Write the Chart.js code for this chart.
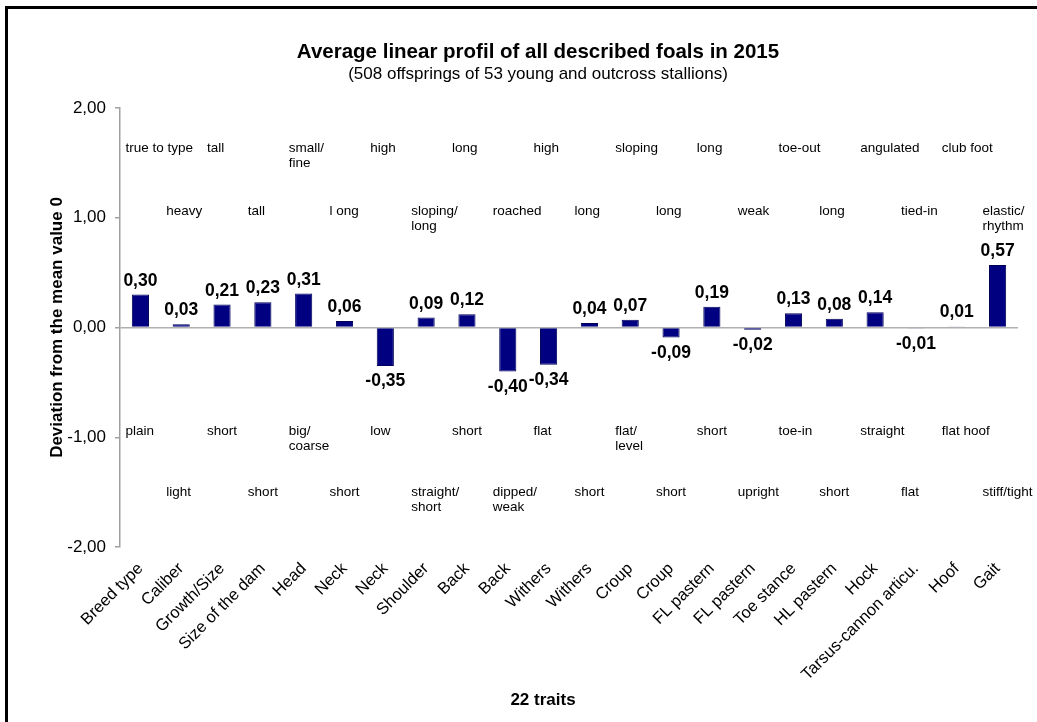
<!DOCTYPE html>
<html>
<head>
<meta charset="utf-8">
<script src="https://cdn.jsdelivr.net/npm/chart.js@4/dist/chart.umd.min.js"></script>
<style>
  body { margin: 0; background: #fff; }
  #wrap { position: relative; width: 1037px; height: 722px; }
  #frame { position: absolute; left: 5px; top: 6px; right: 0; bottom: 0;
           border-left: 3px solid #000; border-top: 3px solid #000; pointer-events: none; }
</style>
</head>
<body>
<div id="wrap">
  <canvas id="myChart" width="1037" height="722"></canvas>
  <div id="frame"></div>
</div>
<script>
// traits on the x axis
const traits = ['Breed type', 'Caliber', 'Growth/Size', 'Size of the dam', 'Head', 'Neck', 'Neck',
  'Shoulder', 'Back', 'Back', 'Withers', 'Withers', 'Croup', 'Croup', 'FL pastern', 'FL pastern',
  'Toe stance', 'HL pastern', 'Hock', 'Tarsus-cannon articu.', 'Hoof', 'Gait'];
// deviation from the mean
const deviation = [0.30, 0.03, 0.21, 0.23, 0.31, 0.06, -0.35, 0.09, 0.12, -0.40, -0.34, 0.04,
  0.07, -0.09, 0.19, -0.02, 0.13, 0.08, 0.14, -0.01, 0.01, 0.57];
const yTicks = [-2, -1, 0, 1, 2];

// descriptions of the scale ends (upper = positive end, lower = negative end)
const upperText = ['true to type', 'heavy', 'tall', 'tall', 'small/\nfine', 'l ong', 'high',
  'sloping/\nlong', 'long', 'roached', 'high', 'long', 'sloping', 'long', 'long', 'weak',
  'toe-out', 'long', 'angulated', 'tied-in', 'club foot', 'elastic/\nrhythm'];
const lowerText = ['plain', 'light', 'short', 'short', 'big/\ncoarse', 'short', 'low',
  'straight/\nshort', 'short', 'dipped/\nweak', 'flat', 'short', 'flat/\nlevel', 'short', 'short',
  'upright', 'toe-in', 'short', 'straight', 'flat', 'flat hoof', 'stiff/tight'];
// rows where the descriptions sit, alternating between even and odd traits
const upperRows = [1.635, 1.055];
const lowerRows = [-0.945, -1.505];

const fmt = v => v.toFixed(2).replace('.', ',');
const FONT = "'Liberation Sans', Arial, sans-serif";

const textPlugin = {
  id: 'texts',
  afterDatasetsDraw(chart) {
    const c = chart.ctx;
    const x = chart.scales.x, y = chart.scales.y;
    const meta = chart.getDatasetMeta(0);
    c.save();
    // value labels
    c.font = 'bold 17.5px ' + FONT;
    c.fillStyle = '#000';
    c.textAlign = 'center';
    meta.data.forEach((bar, i) => {
      const v = deviation[i];
      if (v >= 0) {
        c.textBaseline = 'bottom';
        c.fillText(fmt(v), bar.x, bar.y - 5);
      } else {
        c.textBaseline = 'top';
        c.fillText(fmt(v), bar.x, bar.y + 7);
      }
    });
    // scale end descriptions
    c.font = '13.5px ' + FONT;
    c.textAlign = 'left';
    c.textBaseline = 'middle';
    const put = (txt, i, row) => {
      const px = x.getPixelForValue(i) - 15;
      const py = y.getPixelForValue(row);
      txt.split('\n').forEach((line, k) => c.fillText(line, px, py + k * 15));
    };
    upperText.forEach((t, i) => put(t, i, upperRows[i % 2]));
    lowerText.forEach((t, i) => put(t, i, lowerRows[i % 2]));
    // x axis title
    c.font = 'bold 17px ' + FONT;
    c.textAlign = 'center';
    c.fillText('22 traits', (x.left + x.right) / 2 - 26, 700);
    c.restore();
  }
};

const bgPlugin = {
  id: 'bg',
  beforeDraw(chart) {
    const c = chart.ctx;
    c.save();
    c.fillStyle = '#fff';
    c.fillRect(0, 0, chart.width, chart.height);
    c.restore();
  }
};

const ctx = document.getElementById('myChart').getContext('2d');
const myChart = new Chart(ctx, {
  type: 'bar',
  data: {
    labels: traits,
    datasets: [{
      data: deviation,
      backgroundColor: '#000080',
      borderColor: '#00005a',
      borderWidth: 1,
      barPercentage: 0.42,
      categoryPercentage: 1
    }]
  },
  options: {
    responsive: false,
    animation: false,
    layout: { padding: { top: 30, left: 58, right: 19, bottom: 9 } },
    plugins: {
      legend: { display: false },
      tooltip: { enabled: false },
      title: {
        display: true,
        text: 'Average linear profil of all described foals in 2015',
        color: '#000',
        font: { family: FONT, size: 20.5, weight: 'bold' },
        padding: { top: 10, bottom: 0 }
      },
      subtitle: {
        display: true,
        text: '(508 offsprings of 53 young and outcross stallions)',
        color: '#000',
        font: { family: FONT, size: 17 },
        padding: { top: 0, bottom: 23 }
      }
    },
    scales: {
      x: {
        grid: { display: false },
        border: { display: false },
        ticks: { color: '#000', font: { family: FONT, size: 16.5 }, minRotation: 45, maxRotation: 45, autoSkip: false, padding: 4 },
        afterFit: s => { s.height = 166; }
      },
      y: {
        min: -2,
        max: 2,
        afterBuildTicks: s => { s.ticks = yTicks.map(v => ({ value: v })); },
        grid: {
          color: c => (c.tick && c.tick.value === 0) ? '#b0b0b0' : 'rgba(0,0,0,0)',
          tickColor: '#a0a0a0',
          tickLength: 5,
          lineWidth: 1.5
        },
        border: { display: true, color: '#a0a0a0', width: 1.5 },
        ticks: { color: '#000', font: { family: FONT, size: 17 }, padding: 9, callback: v => fmt(v) },
        title: {
          display: true, text: 'Deviation from the mean value 0', color: '#000',
          font: { family: FONT, size: 17, weight: 'bold' },
          padding: { top: -11, bottom: 0 }
        },
        afterFit: s => { s.width = 62; }
      }
    }
  },
  plugins: [bgPlugin, textPlugin]
});
</script>
</body>
</html>
